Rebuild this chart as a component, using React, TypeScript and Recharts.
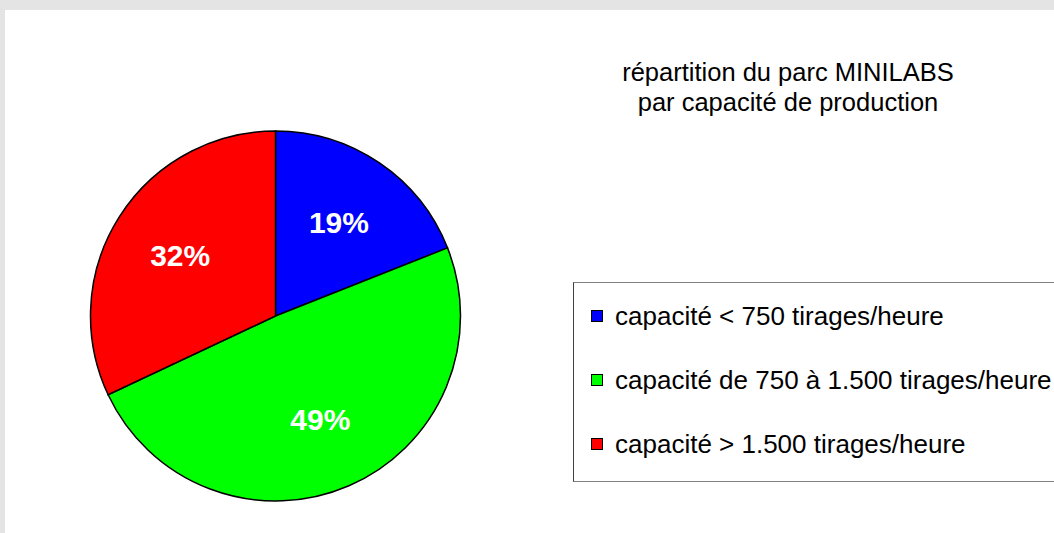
import { PieChart, Pie, Cell, Legend } from 'recharts'

const categories = [
  'capacité < 750 tirages/heure',
  'capacité de 750 à 1.500 tirages/heure',
  'capacité > 1.500 tirages/heure',
]
const shares = [19, 49, 32]
const colors = ['#0000FF', '#00FF00', '#FF0000']
const titleLines = ['répartition du parc MINILABS', 'par capacité de production']

const FONT = '"Liberation Sans", Arial, sans-serif'

const data = categories.map((name, i) => ({ name, value: shares[i] }))

const RADIAN = Math.PI / 180

function renderLabel(props: any) {
  const { cx, cy, midAngle, outerRadius, value } = props
  const r = outerRadius * 0.61
  const x = cx + r * Math.cos(-midAngle * RADIAN)
  const y = cy + r * Math.sin(-midAngle * RADIAN)
  return (
    <text
      x={x}
      y={y}
      fill="#fff"
      textAnchor="middle"
      dominantBaseline="central"
      fontFamily={FONT}
      fontWeight="bold"
      fontSize={30}
    >
      {value}%
    </text>
  )
}

function LegendBox() {
  return (
    <div
      style={{
        width: 500,
        height: 200,
        borderTop: '1px solid #808080',
        borderBottom: '1px solid #808080',
        borderLeft: '1px solid #404040',
        boxSizing: 'border-box',
        fontFamily: FONT,
        fontSize: 26,
        color: '#000',
        paddingTop: 1,
      }}
    >
      {data.map((d, i) => (
        <div key={d.name} style={{ display: 'flex', alignItems: 'center', height: 64, whiteSpace: 'nowrap' }}>
          <span
            style={{
              display: 'inline-block',
              width: 10,
              height: 10,
              marginLeft: 17,
              marginRight: 12,
              background: colors[i],
              border: '1px solid #000',
            }}
          />
          {d.name}
        </div>
      ))}
    </div>
  )
}

export default function App() {
  return (
    <div
      style={{
        position: 'absolute',
        left: 0,
        top: 0,
        width: 1054,
        height: 533,
        background: '#E4E4E4',
        overflow: 'hidden',
      }}
    >
      <div style={{ position: 'absolute', left: 5, top: 10, width: 1049, height: 523, background: '#fff' }} />
      <div
        style={{
          position: 'absolute',
          left: 588,
          top: 57,
          width: 400,
          textAlign: 'center',
          fontFamily: FONT,
          fontSize: 25.5,
          lineHeight: '30px',
          color: '#000',
        }}
      >
        {titleLines.map((t) => (
          <div key={t}>{t}</div>
        ))}
      </div>
      <div style={{ position: 'absolute', left: 0, top: 0 }}>
        <PieChart width={1054} height={533} margin={{ top: 0, right: 0, bottom: 0, left: 0 }}>
          <Pie
            data={data}
            dataKey="value"
            nameKey="name"
            cx={275.5}
            cy={316}
            outerRadius={185}
            startAngle={90}
            endAngle={-270}
            stroke="#000"
            strokeWidth={1.5}
            label={renderLabel}
            labelLine={false}
            isAnimationActive={false}
          >
            {data.map((d, i) => (
              <Cell key={d.name} fill={colors[i]} />
            ))}
          </Pie>
          <Legend
            content={() => <LegendBox />}
            wrapperStyle={{ position: 'absolute', left: 573, top: 282, width: 500 }}
          />
        </PieChart>
      </div>
    </div>
  )
}
